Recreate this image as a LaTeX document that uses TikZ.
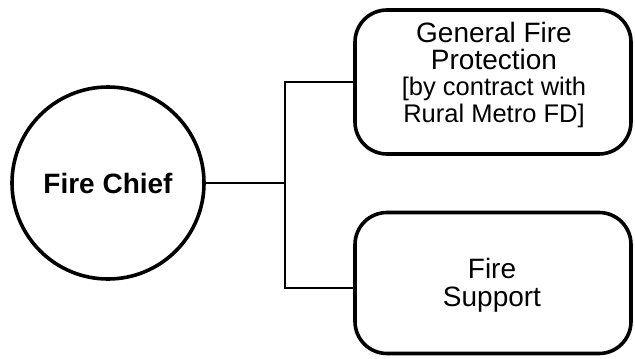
\documentclass[tikz,border=0pt]{standalone}
\usepackage{fontspec}
\setmainfont{Liberation Sans}
\begin{document}
\begin{tikzpicture}[x=1pt,y=-1pt,
  unit/.style={draw=black, line width=3.6pt, rounded corners=32pt,
    minimum width=276pt, inner sep=0pt},
  caption/.style={align=center, inner sep=0pt},
  head/.style={draw=black, line width=3.6pt, circle, minimum size=192pt,
    inner sep=0pt, font=\fontsize{28}{30}\selectfont\bfseries},
  link/.style={line width=2.8pt, line join=miter}]
  \useasboundingbox (0,0) rectangle (635,359);
  % Fire Chief
  \node[head] (chief) at (108,183) {Fire Chief};
  % units under the chief
  \node[unit, minimum height=144pt] (gfp) at (493,82) {};
  \node[caption, font=\fontsize{28}{26.5}\selectfont] (gfptext) at (494,75)
    {General Fire\\ Protection\\
     {\fontsize{25.5}{26.5}\selectfont [by contract with}\\
     {\fontsize{25.5}{26.5}\selectfont Rural Metro FD]}};
  \node[unit, minimum height=141pt] (sup) at (493,283) {};
  \node[caption, font=\fontsize{28}{28}\selectfont] (suptext) at (492,285)
    {Fire\\ Support};
  % connectors
  \coordinate (j) at (285,183);
  \draw[link] (chief.east) -- (j);
  \draw[link] (gfp.west) -| (j) |- ([yshift=-5pt]sup.west);
\end{tikzpicture}
\end{document}
